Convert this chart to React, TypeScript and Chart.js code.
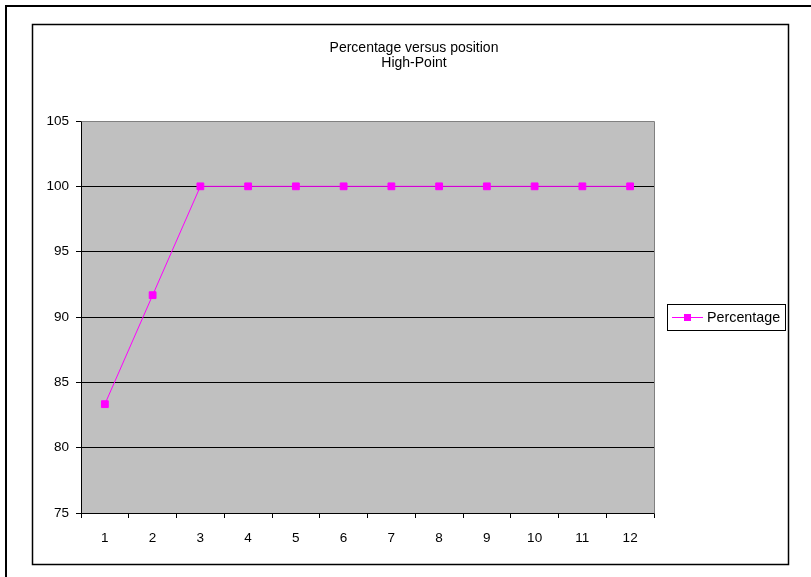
import React, { useEffect, useRef } from "react";
import { Chart, registerables } from "chart.js";

Chart.register(...registerables);

const titleLines = ["Percentage versus position", "High-Point"];
const positions = ["1", "2", "3", "4", "5", "6", "7", "8", "9", "10", "11", "12"];
const percentage = [83.33, 91.67, 100, 100, 100, 100, 100, 100, 100, 100, 100, 100];
const seriesName = "Percentage";
const yMin = 75;
const yMax = 105;
const yStep = 5;

const FONT = "Arial, 'Liberation Sans', sans-serif";
const MAGENTA = "#FF00FF";

const framePlugin = {
  id: "excelFrame",
  beforeDraw(chart: any) {
    const { ctx, chartArea } = chart;
    ctx.save();
    ctx.fillStyle = "#ffffff";
    ctx.fillRect(0, 0, chart.width, chart.height);
    ctx.fillStyle = "#C0C0C0";
    ctx.fillRect(chartArea.left, chartArea.top, chartArea.right - chartArea.left, chartArea.bottom - chartArea.top);
    ctx.restore();
  },
  afterDraw(chart: any) {
    const { ctx, chartArea } = chart;
    ctx.save();
    ctx.strokeStyle = "#000000";
    ctx.lineWidth = 2;
    ctx.beginPath();
    ctx.moveTo(6, chart.height + 5);
    ctx.lineTo(6, 6);
    ctx.lineTo(chart.width + 5, 6);
    ctx.stroke();
    ctx.lineWidth = 1.5;
    ctx.strokeStyle = "#000000";
    ctx.strokeRect(32.5, 24.5, 756, 540);
    ctx.lineWidth = 1;
    ctx.strokeStyle = "#808080";
    ctx.beginPath();
    ctx.moveTo(Math.round(chartArea.left) + 0.5, Math.round(chartArea.top) + 0.5);
    ctx.lineTo(Math.round(chartArea.right) + 0.5, Math.round(chartArea.top) + 0.5);
    ctx.lineTo(Math.round(chartArea.right) + 0.5, Math.round(chartArea.bottom) + 0.5);
    ctx.stroke();
    ctx.fillStyle = "#000000";
    ctx.font = `14px ${FONT}`;
    ctx.textAlign = "center";
    ctx.textBaseline = "middle";
    ctx.fillText(titleLines[0], 414, 48);
    ctx.fillText(titleLines[1], 414, 63);
    const label = chart.data.datasets[0].label;
    ctx.strokeStyle = "#000000";
    ctx.lineWidth = 1;
    ctx.strokeRect(667.5, 304.5, 118, 26);
    ctx.strokeStyle = MAGENTA;
    ctx.beginPath();
    ctx.moveTo(672, 317.5);
    ctx.lineTo(703, 317.5);
    ctx.stroke();
    ctx.fillStyle = MAGENTA;
    ctx.fillRect(684, 314, 7, 7);
    ctx.fillStyle = "#000000";
    ctx.textAlign = "left";
    ctx.font = `14.3px ${FONT}`;
    ctx.fillText(label, 707, 318);
    ctx.restore();
  },
};

export default function App() {
  const ref = useRef<HTMLCanvasElement>(null);
  useEffect(() => {
    if (!ref.current) return;
    const chart = new Chart(ref.current, {
      type: "line",
      data: {
        labels: positions,
        datasets: [
          {
            label: seriesName,
            data: percentage,
            borderColor: MAGENTA,
            backgroundColor: MAGENTA,
            borderWidth: 1,
            pointStyle: "rect",
            pointRadius: 4.8,
            pointBorderWidth: 1,
            pointBackgroundColor: MAGENTA,
            pointBorderColor: MAGENTA,
            tension: 0,
          },
        ],
      },
      options: {
        responsive: false,
        animation: false,
        devicePixelRatio: 1,
        layout: { padding: { left: 0, top: 121, right: 157, bottom: 34 } },
        plugins: { legend: { display: false }, title: { display: false }, tooltip: { enabled: false } },
        scales: {
          x: {
            offset: true,
            grid: { offset: true, drawOnChartArea: false, color: "#000000", tickLength: 5 },
            border: { color: "#000000", width: 1 },
            ticks: { color: "#000000", font: { family: FONT, size: 13.5 }, padding: 12, maxRotation: 0 },
            afterFit: (s: any) => { s.height = 30; },
          },
          y: {
            min: yMin,
            max: yMax,
            ticks: { stepSize: yStep, color: "#000000", font: { family: FONT, size: 13.5 }, padding: 7 },
            grid: { color: "#000000", tickLength: 5 },
            border: { color: "#000000", width: 1 },
            afterFit: (s: any) => { s.width = 81; },
          },
        },
      },
      plugins: [framePlugin],
    });
    return () => chart.destroy();
  }, []);
  return (
    <div style={{ position: "fixed", left: 0, top: 0, width: 811, height: 577, background: "#fff" }}>
      <canvas ref={ref} width={811} height={577} style={{ width: 811, height: 577, display: "block" }} />
    </div>
  );
}
